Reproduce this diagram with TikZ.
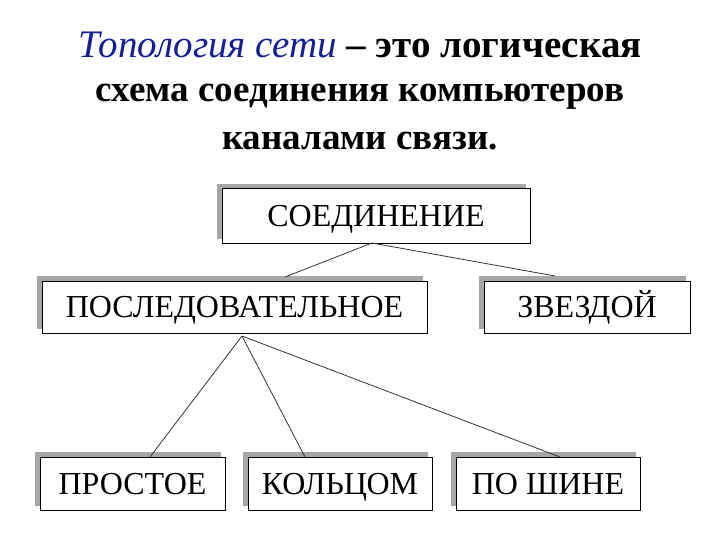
\documentclass[tikz,border=0pt]{standalone}
\usepackage{fontspec}
\setmainfont{Liberation Serif}
\begin{document}
\begin{tikzpicture}[x=1pt,y=-1pt,
  bx/.style={draw=black,line width=1pt,fill=white,inner sep=0pt,text height=21pt,text depth=0pt,font=\fontsize{32}{32}\selectfont},
  shd/.style={fill=gray!70},
  ln/.style={draw=black!80,line width=0.8pt}]
\useasboundingbox (0,0) rectangle (720,540);
\node[font=\fontsize{39}{46}\selectfont\bfseries] (t1) at (360,45) {\textcolor[RGB]{20,30,150}{\textit{\mdseries Топология сети}} – это логическая};
\node[font=\fontsize{37}{46}\selectfont\bfseries] (t2) at (360,97) {схема соединения компьютеров};
\node[font=\fontsize{37}{46}\selectfont\bfseries] (t3) at (360,141) {каналами связи.};
\foreach \n/\a/\b/\c/\d/\t in {s/222/189/530/243/СОЕДИНЕНИЕ, p/42/281/427/333/ПОСЛЕДОВАТЕЛЬНОЕ, z/484/281/690/333/ЗВЕЗДОЙ, r/40/457/225/510/ПРОСТОЕ, k/248/457/432/510/КОЛЬЦОМ, w/456/457/640/510/ПО ШИНЕ}{
  \fill[shd] (\a-5,\b-5) rectangle (\c-4,\d-4);
  \node[bx,minimum width={\c-\a},minimum height={\d-\b}] (\n) at ({(\a+\c)/2},{(\b+\d)/2}) {\t};
}
\coordinate (sb) at (372,243);
\coordinate (pb) at (242,336);
\draw[ln] (sb) -- (285,277);
\draw[ln] (sb) -- (555,276);
\draw[ln] (pb) -- (150,457);
\draw[ln] (pb) -- (305,457);
\draw[ln] (pb) -- (560,457);
\end{tikzpicture}
\end{document}
